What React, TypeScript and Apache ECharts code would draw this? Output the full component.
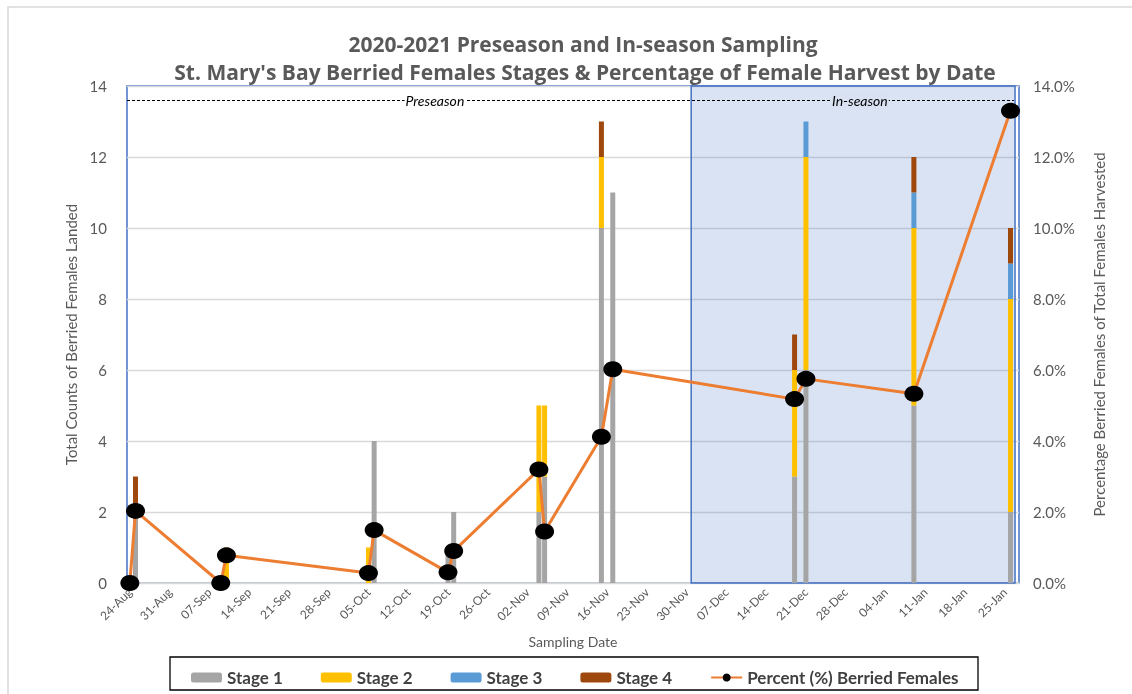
import { useEffect, useRef } from 'react';
import * as echarts from 'echarts';

// ---------- data ----------
const tickDates = [
  '2020-08-24', '2020-08-31', '2020-09-07', '2020-09-14', '2020-09-21', '2020-09-28',
  '2020-10-05', '2020-10-12', '2020-10-19', '2020-10-26', '2020-11-02', '2020-11-09',
  '2020-11-16', '2020-11-23', '2020-11-30', '2020-12-07', '2020-12-14', '2020-12-21',
  '2020-12-28', '2021-01-04', '2021-01-11', '2021-01-18', '2021-01-25',
];

const barDates = [
  '2020-08-25', '2020-09-10', '2020-10-05', '2020-10-06', '2020-10-19', '2020-10-20',
  '2020-11-04', '2020-11-05', '2020-11-15', '2020-11-17', '2020-12-19', '2020-12-21',
  '2021-01-09', '2021-01-26',
];
const stage1 = [2, 0, 0, 4, 1, 2, 2, 3, 10, 11, 3, 6, 5, 2];
const stage2 = [0, 1, 1, 0, 0, 0, 3, 2, 2, 0, 3, 6, 5, 6];
const stage3 = [0, 0, 0, 0, 0, 0, 0, 0, 0, 0, 0, 1, 1, 1];
const stage4 = [1, 0, 0, 0, 0, 0, 0, 0, 1, 0, 1, 0, 1, 1];

const pctDates = [
  '2020-08-24', '2020-08-25', '2020-09-09', '2020-09-10', '2020-10-05', '2020-10-06',
  '2020-10-19', '2020-10-20', '2020-11-04', '2020-11-05', '2020-11-15', '2020-11-17',
  '2020-12-19', '2020-12-21', '2021-01-09', '2021-01-26',
];
const pctValues = [0, 2.03, 0, 0.78, 0.28, 1.49, 0.3, 0.9, 3.2, 1.45, 4.12, 6.02, 5.18, 5.75, 5.33, 13.3];

const seasonLabels = ['Preseason', 'In-season'];

// ---------- helpers ----------
const ORIGIN = Date.UTC(2020, 7, 24);
const MONTHS = ['Jan', 'Feb', 'Mar', 'Apr', 'May', 'Jun', 'Jul', 'Aug', 'Sep', 'Oct', 'Nov', 'Dec'];
const dayOf = (s: string) => {
  const [y, m, d] = s.split('-').map(Number);
  return Math.round((Date.UTC(y, m - 1, d) - ORIGIN) / 86400000);
};
const fmtDay = (v: number) => {
  const dt = new Date(ORIGIN + Math.round(v) * 86400000);
  return String(dt.getUTCDate()).padStart(2, '0') + '-' + MONTHS[dt.getUTCMonth()];
};

const FONT = 'Lato, "Open Sans", sans-serif';
const TITLE_FONT = '"Open Sans", Lato, sans-serif';
const GREY = '#595959';

export default function App() {
  const ref = useRef<HTMLDivElement>(null);
  useEffect(() => {
    if (!ref.current) return;
    const chart = echarts.init(ref.current, undefined, { renderer: 'svg' });
    const stages = [
      { name: 'Stage 1', data: stage1, color: '#A5A5A5' },
      { name: 'Stage 2', data: stage2, color: '#FFC000' },
      { name: 'Stage 3', data: stage3, color: '#5B9BD5' },
      { name: 'Stage 4', data: stage4, color: '#9E480E' },
    ];
    const option: any = {
      animation: false,
      textStyle: { fontFamily: FONT },
      graphic: [
        { type: 'rect', shape: { x: 8, y: 7, width: 1140, height: 700 }, style: { fill: 'none', stroke: '#D9D9D9', lineWidth: 1.5 }, silent: true },
        { type: 'rect', shape: { x: 170, y: 657, width: 808, height: 33 }, style: { fill: 'none', stroke: '#000', lineWidth: 1.3 }, silent: true },
        { type: 'text', x: 583, y: 44, style: { text: '2020-2021 Preseason and In-season Sampling', align: 'center', verticalAlign: 'middle', font: `bold 21px ${TITLE_FONT}`, fill: GREY } },
        { type: 'text', x: 585, y: 72, style: { text: "St. Mary's Bay Berried Females Stages & Percentage of Female Harvest by Date", align: 'center', verticalAlign: 'middle', font: `bold 21px ${TITLE_FONT}`, fill: GREY } },
      ],
      legend: {
        data: ['Stage 1', 'Stage 2', 'Stage 3', 'Stage 4', 'Percent (%) Berried Females'],
        left: 186, top: 664, itemWidth: 31, itemHeight: 10, itemGap: 38,
        textStyle: { fontFamily: FONT, fontWeight: 'bold', fontSize: 17, color: '#404040' },
      },
      grid: {
        left: 127, top: 86, width: 892, height: 497, show: true,
        borderColor: '#4472C4', borderWidth: 1.5, outerBoundsMode: 'none', containLabel: false,
      },
      xAxis: {
        type: 'value', min: -0.5, max: 156.5,
        name: 'Sampling Date', nameLocation: 'middle', nameGap: 51,
        nameTextStyle: { color: GREY, fontSize: 14, fontFamily: FONT },
        axisLine: { show: true, lineStyle: { color: '#D9D9D9', width: 1.5 } },
        axisTick: { show: false },
        splitLine: { show: false },
        axisLabel: {
          customValues: tickDates.map(dayOf), rotate: 45, formatter: (v: number) => fmtDay(v),
          color: GREY, fontSize: 12, margin: 7, fontFamily: FONT,
        },
      },
      yAxis: [
        {
          type: 'value', min: 0, max: 14, interval: 2,
          name: 'Total Counts of Berried Females Landed', nameLocation: 'middle', nameGap: 47, nameRotate: 90,
          nameTextStyle: { color: GREY, fontSize: 15, fontFamily: FONT },
          axisLine: { show: false }, axisTick: { show: false },
          axisLabel: { color: GREY, fontSize: 15, margin: 20, fontFamily: FONT },
          splitLine: { lineStyle: { color: '#D9D9D9', width: 1.3 } },
        },
        {
          type: 'value', min: 0, max: 14, interval: 2, position: 'right',
          name: 'Percentage Berried Females of Total Females Harvested', nameLocation: 'middle', nameGap: 72, nameRotate: 90,
          nameTextStyle: { color: GREY, fontSize: 15, fontFamily: FONT },
          axisLine: { show: false }, axisTick: { show: false },
          axisLabel: { color: GREY, fontSize: 15, margin: 14, fontFamily: FONT, formatter: (v: number) => v.toFixed(1) + '%' },
          splitLine: { show: false },
        },
      ],
      series: [
        ...stages.map((s) => ({
          type: 'bar', name: s.name, stack: 'stages', barWidth: 5, z: 2,
          itemStyle: { color: s.color },
          // value first so that the stacked dimension is the count (y)
          encode: { x: 1, y: 0 },
          data: barDates.map((d, i) => [s.data[i], dayOf(d)]),
        })),
        {
          type: 'line', name: 'Percent (%) Berried Females', yAxisIndex: 1, z: 4,
          data: pctDates.map((d, i) => [dayOf(d), pctValues[i]]),
          symbol: 'circle', symbolSize: [19, 16],
          itemStyle: { color: '#000' },
          lineStyle: { color: '#ED7D31', width: 3 },
        },
        {
          type: 'line', name: '_overlay', data: [], z: 10, silent: true,
          markArea: {
            silent: true,
            itemStyle: { color: 'rgba(68,114,196,0.2)', borderColor: '#4472C4', borderWidth: 1.5 },
            data: [[{ xAxis: 98.8, yAxis: 0 }, { xAxis: 155.8, yAxis: 14 }]],
          },
        },
        {
          type: 'line', name: '_labels', data: [], z: 11, silent: true,
          markLine: {
            silent: true, symbol: ['none', 'none'],
            lineStyle: { color: '#000', width: 1, type: [3, 2] },
            label: { show: false },
            data: [[{ coord: [-0.5, 13.6] }, { coord: [155.6, 13.6] }]],
          },
          markPoint: {
            silent: true, symbol: 'rect', symbolSize: 1,
            itemStyle: { color: 'rgba(0,0,0,0)' },
            label: {
              show: true, position: 'inside', formatter: '{b}', color: '#000',
              fontStyle: 'italic', fontSize: 14, fontFamily: FONT, backgroundColor: '#fff', padding: [1, 1],
            },
            data: [
              { name: seasonLabels[0], coord: [53.7, 13.6] },
              { name: seasonLabels[1], coord: [128.5, 13.6], label: { backgroundColor: '#D9E1F2' } },
            ],
          },
        },
      ],
    };
    chart.setOption(option);
    return () => chart.dispose();
  }, []);
  return <div ref={ref} style={{ position: 'fixed', left: 0, top: 0, width: 1132, height: 694 }} />;
}
